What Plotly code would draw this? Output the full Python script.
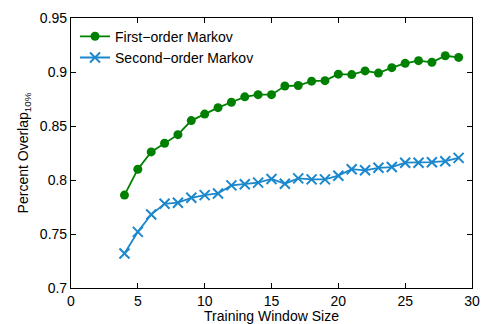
import plotly.graph_objects as go

window = list(range(4, 30))
first_order = [0.786, 0.810, 0.826, 0.834, 0.842, 0.855, 0.861, 0.867, 0.872, 0.877,
               0.879, 0.879, 0.887, 0.8875, 0.8915, 0.892, 0.898, 0.8976, 0.901, 0.899,
               0.904, 0.908, 0.9105, 0.909, 0.915, 0.9135]
second_order = [0.732, 0.752, 0.768, 0.778, 0.779, 0.7835, 0.786, 0.7875, 0.795, 0.796,
                0.7976, 0.801, 0.7966, 0.8015, 0.8006, 0.8006, 0.804, 0.810, 0.809, 0.8113,
                0.812, 0.816, 0.816, 0.8165, 0.8174, 0.8205]
x_ticks = [0, 5, 10, 15, 20, 25, 30]
y_ticks = [0.7, 0.75, 0.8, 0.85, 0.9, 0.95]

font = "Liberation Sans, Arial, Helvetica, sans-serif"

fig = go.Figure()
fig.add_trace(go.Scatter(
    x=window, y=first_order, mode="lines+markers", name="First\u2212order Markov",
    line=dict(color="#008000", width=1.8),
    marker=dict(symbol="circle", size=9, color="#008000"),
))
fig.add_trace(go.Scatter(
    x=window, y=second_order, mode="lines+markers", name="Second\u2212order Markov",
    line=dict(color="#1b87cc", width=1.8),
    marker=dict(symbol="x-thin-open", size=10, line=dict(color="#1b87cc", width=2)),
))

axis_common = dict(
    showline=True, linecolor="black", linewidth=1.2, mirror="all",
    ticks="inside", ticklen=5, tickcolor="black", showgrid=False, zeroline=False,
    tickfont=dict(family=font, size=14, color="black"),
)
fig.update_layout(
    width=483, height=324,
    margin=dict(l=71, r=10, t=16, b=36),
    paper_bgcolor="white", plot_bgcolor="white",
    font=dict(family=font, size=14, color="black"),
    xaxis=dict(range=[0, 30], tickvals=x_ticks, automargin=False,
               title=dict(text="Training Window Size",
                          font=dict(family=font, size=14)),
               **axis_common),
    yaxis=dict(range=[0.7, 0.95], tickvals=y_ticks, automargin=True,
               title=dict(text="Percent Overlap<sub>10%</sub>", standoff=7,
                          font=dict(family=font, size=14)),
               **axis_common),
    legend=dict(x=0.01, y=0.99, xanchor="left", yanchor="top",
                bgcolor="rgba(0,0,0,0)", font=dict(family=font, size=14),
                tracegroupgap=0, itemwidth=30),
    showlegend=True,
)
fig.write_html("out.html", config={"displayModeBar": False},
               post_script="document.body.style.margin='0';document.body.style.overflow='hidden';")
